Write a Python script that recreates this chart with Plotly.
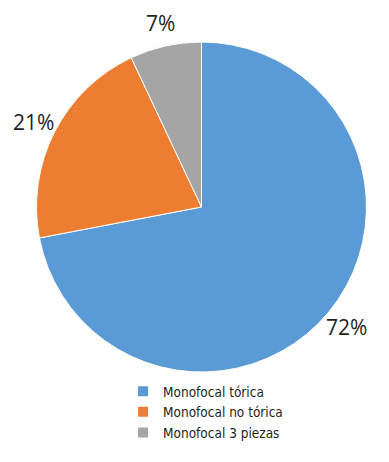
import math
import plotly.graph_objects as go

categories = ["Monofocal tórica", "Monofocal no tórica", "Monofocal 3 piezas"]
values = [72, 21, 7]
colors = ["#5b9bd5", "#ed7d31", "#a5a5a5"]

W, H = 381, 454
dom_x = [0.0748, 0.9409]
dom_y = [0.1982, 0.9251]

fig = go.Figure(go.Pie(
    labels=categories,
    values=values,
    sort=False,
    direction="clockwise",
    rotation=0,
    marker=dict(colors=colors, line=dict(color="white", width=1)),
    textinfo="none",
    domain=dict(x=dom_x, y=dom_y),
    hole=0,
))

# Percentage labels placed outside each slice, at its mid-angle (derived from values)
cx = (dom_x[0] + dom_x[1]) / 2 * W
cy = (dom_y[0] + dom_y[1]) / 2 * H
r = min((dom_x[1] - dom_x[0]) * W, (dom_y[1] - dom_y[0]) * H) / 2
total = sum(values)
label_r = r * 1.14
cum = 0
for v in values:
    mid = (cum + v / 2) / total * 2 * math.pi
    cum += v
    px = cx + label_r * math.sin(mid)
    py = cy + label_r * math.cos(mid)
    fig.add_annotation(
        x=px / W, y=py / H, xref="paper", yref="paper",
        text=f"{round(v / total * 100)}%", showarrow=False,
        xanchor="center", yanchor="middle",
        font=dict(family="Open Sans, sans-serif", size=21, color="#231f20"),
    )

fig.update_layout(
    width=W, height=H,
    margin=dict(l=0, r=0, t=0, b=0),
    paper_bgcolor="white",
    plot_bgcolor="white",
    showlegend=True,
    legend=dict(
        x=0.302, y=0.1894, xanchor="left", yanchor="top",
        font=dict(family="DejaVu Sans Condensed, Liberation Sans Narrow, sans-serif", size=13.5, color="#231f20"),
        itemsizing="constant", tracegroupgap=0,
    ),
)

fig.write_html("out.html")
